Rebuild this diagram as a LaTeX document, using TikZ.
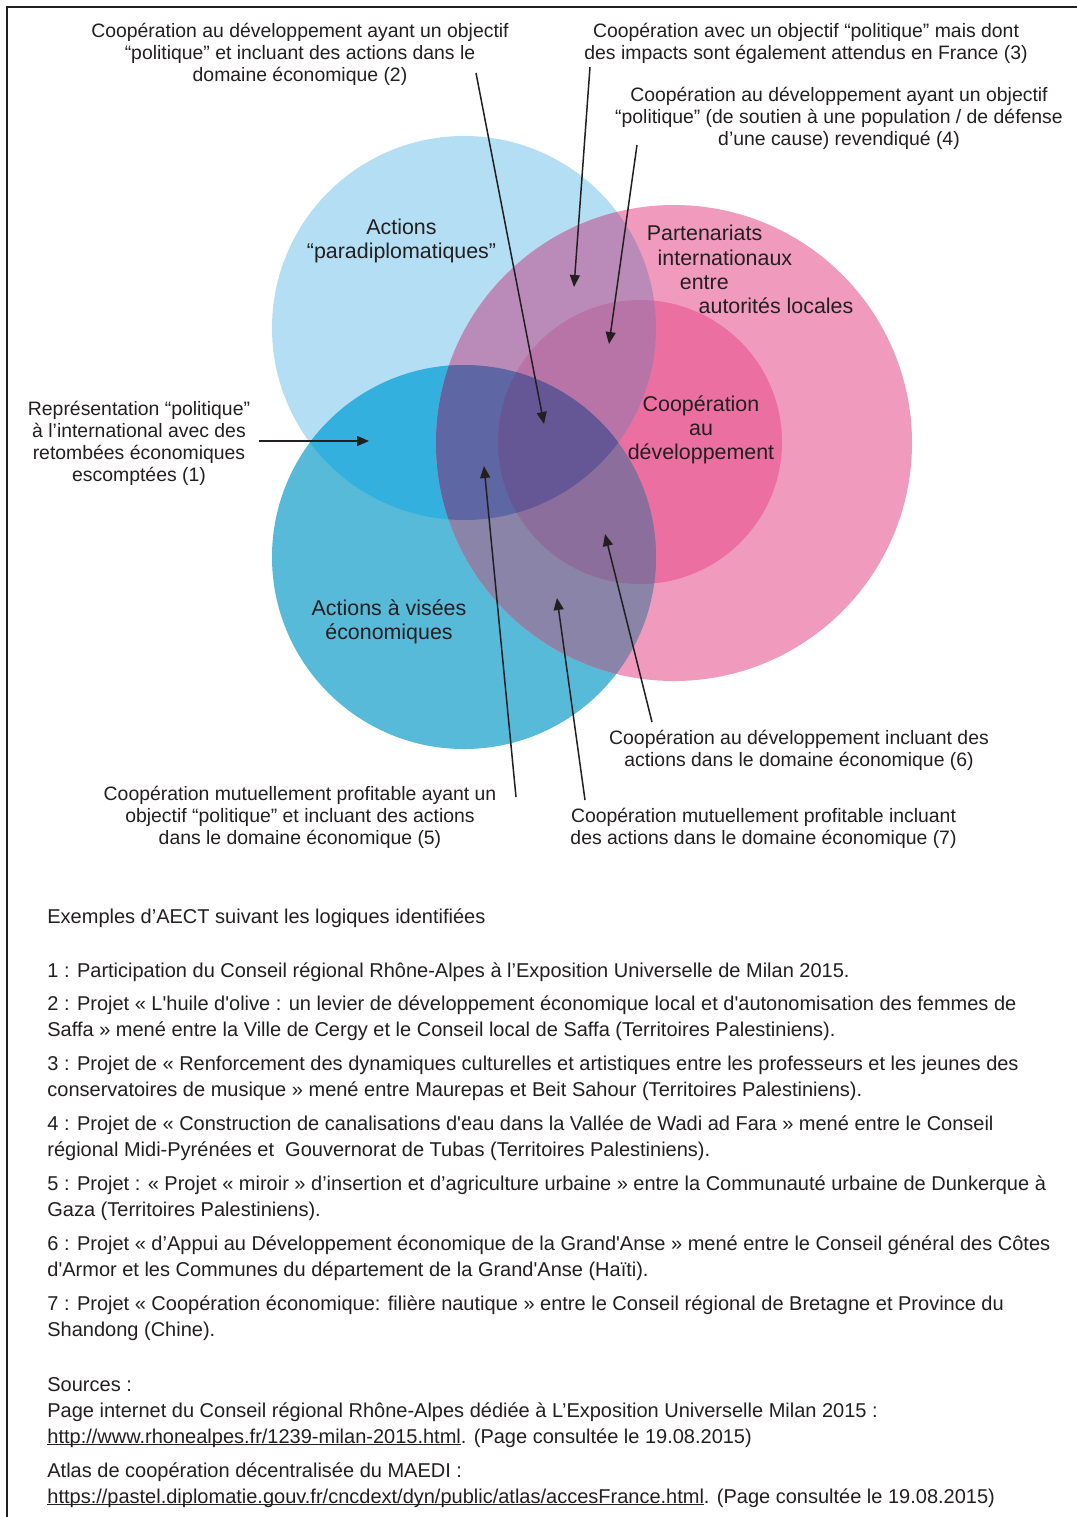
\documentclass[tikz,border=0pt]{standalone}
\usepackage{fontspec}
\setmainfont{Liberation Sans}[Ligatures=TeXOff]
\usetikzlibrary{arrows.meta}
\definecolor{ink}{HTML}{231F20}
\definecolor{cL}{HTML}{B4DEF4}
\definecolor{cC}{HTML}{57BAD9}
\definecolor{cLC}{HTML}{33B0DD}
\definecolor{cP}{HTML}{F09ABE}
\definecolor{cS}{HTML}{EC6FA1}
\definecolor{cLP}{HTML}{BA8BB8}
\definecolor{cLS}{HTML}{B874A7}
\definecolor{cCP}{HTML}{8A84A8}
\definecolor{cCS}{HTML}{8B6E9B}
\definecolor{cLCP}{HTML}{5E66A3}
\definecolor{cLCS}{HTML}{655696}
\newcommand\myul[1]{\setbox0\hbox{#1}\rlap{\rule[-1.2pt]{\wd0}{0.5pt}}\box0}
\tikzset{
  lbl/.style={font=\fontsize{9.7}{11}\selectfont, align=center, anchor=base, inner sep=0pt, text=ink},
  clbl/.style={font=\fontsize{10.7}{12}\selectfont, align=center, anchor=base, inner sep=0pt, text=ink},
  cline/.style={font=\fontsize{10.7}{12}\selectfont, anchor=base west, inner sep=0pt, text=ink},
  body/.style={font=\fontsize{10}{13}\selectfont, align=left, anchor=base west, inner sep=0pt, text=ink},
  arr/.style={draw=ink, line width=0.75pt, -{Triangle[length=6pt,width=5pt]}},
  frame/.style={draw=ink, line width=1pt},
}
\begin{document}
\begin{tikzpicture}[x=0.5pt,y=-0.5pt]
\useasboundingbox (0,0) rectangle (1077,1517);
\fill[white] (0,0) rectangle (1077,1517);
\draw[frame] (7,1517) -- (7,7) -- (1077,7);

% circles: L (464,328) r192 ; C (464,557) r192 ; P (674,443) r238 ; S (640,442) r142
\fill[cL] (464,328) circle [radius=192];
\fill[cC] (464,557) circle [radius=192];
\begin{scope}
  \clip (464,328) circle [radius=192];
  \fill[cLC] (464,557) circle [radius=192];
\end{scope}
\fill[cP] (674,443) circle [radius=238];
\fill[cS] (640,442) circle [radius=142];
\begin{scope}
  \clip (464,328) circle [radius=192];
  \fill[cLP] (674,443) circle [radius=238];
  \fill[cLS] (640,442) circle [radius=142];
\end{scope}
\begin{scope}
  \clip (464,557) circle [radius=192];
  \fill[cCP] (674,443) circle [radius=238];
  \fill[cCS] (640,442) circle [radius=142];
\end{scope}
\begin{scope}
  \clip (464,328) circle [radius=192];
  \clip (464,557) circle [radius=192];
  \fill[cLCP] (674,443) circle [radius=238];
  \fill[cLCS] (640,442) circle [radius=142];
\end{scope}

% circle labels (anchor = baseline of last line)
\node[clbl] (para) at (401.5,258) {Actions\\“paradiplomatiques”};
\node[cline] (part1) at (646.5,240) {Partenariats};
\node[cline] (part2) at (657.3,265) {internationaux};
\node[cline] (part3) at (679.5,289) {entre};
\node[cline] (part4) at (698.3,313) {autorités locales};
\node[clbl] (coop) at (701,459) {Coopération\\au\\développement};
\node[clbl] (eco) at (389,639) {Actions à visées\\économiques};

% outer labels (anchor = baseline of last line)
\node[lbl] (t2) at (300,81) {Coopération au développement ayant un objectif\\“politique” et incluant des actions dans le\\domaine économique (2)};
\node[lbl] (t3) at (806,59) {Coopération avec un objectif “politique” mais dont\\des impacts sont également attendus en France (3)};
\node[lbl] (t4) at (839,145) {Coopération au développement ayant un objectif\\“politique” (de soutien à une population / de défense\\d’une cause) revendiqué (4)};
\node[lbl] (t1) at (139,481) {Représentation “politique”\\à l’international avec des\\retombées économiques\\escomptées (1)};
\node[lbl] (t6) at (799,766) {Coopération au développement incluant des\\actions dans le domaine économique (6)};
\node[lbl] (t5) at (300,844) {Coopération mutuellement profitable ayant un\\objectif “politique” et incluant des actions\\dans le domaine économique (5)};
\node[lbl] (t7) at (763.5,844) {Coopération mutuellement profitable incluant\\des actions dans le domaine économique (7)};

% arrow ends
\coordinate (s2) at (476,73);  \coordinate (e2) at (544,424);
\coordinate (s3) at (590,67);  \coordinate (e3) at (574,287);
\coordinate (s4) at (637,145); \coordinate (e4) at (609,344);
\coordinate (s1) at (259,441); \coordinate (e1) at (369,441);
\coordinate (s5) at (516,797); \coordinate (e5) at (484,466);
\coordinate (s7) at (585,800); \coordinate (e7) at (557,598);
\coordinate (s6) at (652,722); \coordinate (e6) at (605,534);
\draw[arr] (s2) -- (e2);
\draw[arr] (s3) -- (e3);
\draw[arr] (s4) -- (e4);
\draw[arr] (s1) -- (e1);
\draw[arr] (s5) -- (e5);
\draw[arr] (s7) -- (e7);
\draw[arr] (s6) -- (e6);

% lower text (anchor = baseline of last line)
\node[body] (ex) at (47,923) {Exemples d’AECT suivant les logiques identifiées};
\node[body] (i1) at (47,977) {1 : Participation du Conseil régional Rhône-Alpes à l’Exposition Universelle de Milan 2015.};
\node[body] (i2) at (47,1036) {2 : Projet « L'huile d'olive : un levier de développement économique local et d'autonomisation des femmes de\\Saffa » mené entre la Ville de Cergy et le Conseil local de Saffa (Territoires Palestiniens).};
\node[body] (i3) at (47,1096) {3 : Projet de « Renforcement des dynamiques culturelles et artistiques entre les professeurs et les jeunes des\\conservatoires de musique » mené entre Maurepas et Beit Sahour (Territoires Palestiniens).};
\node[body] (i4) at (47,1156) {4 : Projet de « Construction de canalisations d'eau dans la Vallée de Wadi ad Fara » mené entre le Conseil\\régional Midi-Pyrénées et~ Gouvernorat de Tubas (Territoires Palestiniens).};
\node[body] (i5) at (47,1216) {5 : Projet : « Projet « miroir » d’insertion et d’agriculture urbaine » entre la Communauté urbaine de Dunkerque à\\Gaza (Territoires Palestiniens).};
\node[body] (i6) at (47,1276) {6 : Projet « d’Appui au Développement économique de la Grand'Anse » mené entre le Conseil général des Côtes\\d'Armor et les Communes du département de la Grand'Anse (Haïti).};
\node[body] (i7) at (47,1336) {7 : Projet « Coopération économique: filière nautique » entre le Conseil régional de Bretagne et Province du\\Shandong (Chine).};
\node[body] (src1) at (47,1443) {Sources :\\Page internet du Conseil régional Rhône-Alpes dédiée à L’Exposition Universelle Milan 2015 :\\\myul{http://www.rhonealpes.fr/1239-milan-2015.html}. (Page consultée le 19.08.2015)};
\node[body] (src2) at (47,1503) {Atlas de coopération décentralisée du MAEDI :\\\myul{https://pastel.diplomatie.gouv.fr/cncdext/dyn/public/atlas/accesFrance.html}. (Page consultée le 19.08.2015)};
\end{tikzpicture}
\end{document}
